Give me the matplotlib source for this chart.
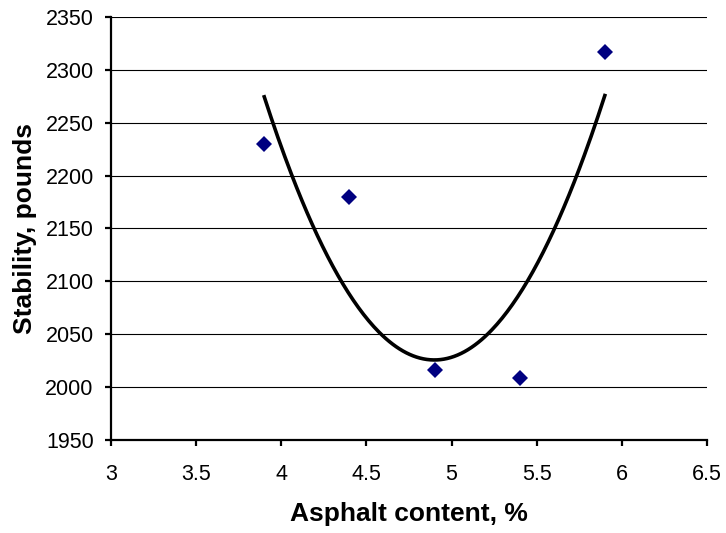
#!/usr/bin/env python3
import matplotlib; matplotlib.use('Agg')  # noqa
import matplotlib.pyplot as plt
import numpy as np

plt.rcParams['font.family'] = ['Liberation Sans', 'DejaVu Sans']

# Asphalt content (%) vs Marshall stability (pounds)
asphalt = [3.9, 4.4, 4.9, 5.4, 5.9]
stability = [2230, 2180, 2016, 2009, 2317]
xticks = [3, 3.5, 4, 4.5, 5, 5.5, 6, 6.5]
yticks = [1950, 2000, 2050, 2100, 2150, 2200, 2250, 2300, 2350]

fig = plt.figure(figsize=(7.26, 5.33), dpi=100)
ax = fig.add_axes([0.1529, 0.1745, 0.8209, 0.7936])

# second-order polynomial trend line, as in the spreadsheet
coef = np.polyfit(asphalt, stability, 2)
xs = np.linspace(min(asphalt), max(asphalt), 200)
ax.plot(xs, np.polyval(coef, xs), color='black', lw=2.6, zorder=3)

ax.plot(asphalt, stability, linestyle='none', marker='D', ms=8.2,
        color='#000080', markeredgewidth=0, zorder=4)

ax.set_xlim(3, 6.5)
ax.set_ylim(1950, 2350)
ax.set_xticks(xticks)
ax.set_xticklabels(['%g' % t for t in xticks])
ax.set_yticks(yticks)
ax.yaxis.grid(True, color='black', lw=0.8)
ax.set_axisbelow(True)

for side in ('top', 'right'):
    ax.spines[side].set_visible(False)
for side in ('left', 'bottom'):
    ax.spines[side].set_linewidth(1.6)
ax.tick_params(direction='out', length=4.5, width=1.6, labelsize=15.5,
               colors='black')
ax.tick_params(axis='x', pad=13)
ax.tick_params(axis='y', pad=8)

ax.set_xlabel('Asphalt content, %', fontsize=19, fontweight='bold',
              labelpad=12)
ax.set_ylabel('Stability, pounds', fontsize=19, fontweight='bold',
              labelpad=6)

fig.savefig('out.png', dpi=100)
